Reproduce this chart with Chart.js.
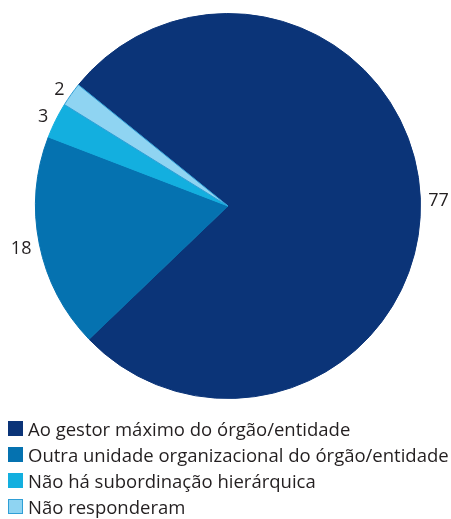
<!DOCTYPE html>
<html>
<head>
<meta charset="utf-8">
<script src="https://cdn.jsdelivr.net/npm/chart.js@4.4.1/dist/chart.umd.min.js"></script>
<style>
  html, body { margin: 0; padding: 0; background: #fff; }
  #wrap { position: relative; width: 451px; height: 519px; }
  #legend { position: absolute; left: 8px; top: 415px; font-family: "Open Sans", sans-serif; font-size: 18.5px; color: #231f20; }
  .item { display: flex; align-items: center; height: 26px; white-space: nowrap; }
  .box { width: 13px; height: 13px; border: 1px solid; margin-right: 5px; flex: none; }
</style>
</head>
<body>
<div id="wrap">
  <canvas id="pieChart" width="451" height="519"></canvas>
  <div id="legend"></div>
</div>
<script>
const categories = [
    'Ao gestor máximo do órgão/entidade',
    'Outra unidade organizacional do órgão/entidade',
    'Não há subordinação hierárquica',
    'Não responderam'
];
const values = [77, 18, 3, 2];
const colors = ['#0b3478', '#0572b0', '#13afdf', '#8fd4f2'];
const borderColors = ['#0b3478', '#0572b0', '#13afdf', '#2f9fd6'];

// value labels outside each slice
const sliceLabels = {
    id: 'sliceLabels',
    afterDatasetsDraw(chart) {
        const ctx = chart.ctx;
        const meta = chart.getDatasetMeta(0);
        ctx.save();
        ctx.font = '18px "Open Sans"';
        ctx.fillStyle = '#231f20';
        ctx.textBaseline = 'middle';
        meta.data.forEach((arc, i) => {
            const p = arc.getProps(['x', 'y', 'startAngle', 'endAngle', 'outerRadius'], true);
            const mid = (p.startAngle + p.endAngle) / 2;
            const r = p.outerRadius + 8;
            // slices on the right side sit a little lower in the original
            const dy = Math.sin(mid) > -0.3 ? 3 : 0;
            ctx.textAlign = Math.cos(mid) >= 0 ? 'left' : 'right';
            ctx.fillText(String(values[i]), p.x + Math.cos(mid) * r, p.y + Math.sin(mid) * r + dy);
        });
        ctx.restore();
    }
};

const ctx = document.getElementById('pieChart').getContext('2d');
new Chart(ctx, {
    type: 'pie',
    data: {
        labels: categories,
        datasets: [{
            data: values,
            backgroundColor: colors,
            borderColor: borderColors,
            borderWidth: 1
        }]
    },
    options: {
        responsive: false,
        animation: false,
        rotation: -51,
        layout: { padding: { left: 35, right: 30, top: 12, bottom: 119 } },
        plugins: {
            legend: { display: false },
            tooltip: { enabled: false }
        }
    },
    plugins: [sliceLabels]
});

// legend, one row per category
const legend = document.getElementById('legend');
categories.forEach((name, i) => {
    const row = document.createElement('div');
    row.className = 'item';
    const box = document.createElement('span');
    box.className = 'box';
    box.style.background = colors[i];
    box.style.borderColor = borderColors[i];
    row.appendChild(box);
    row.appendChild(document.createTextNode(name));
    legend.appendChild(row);
});
</script>
</body>
</html>
